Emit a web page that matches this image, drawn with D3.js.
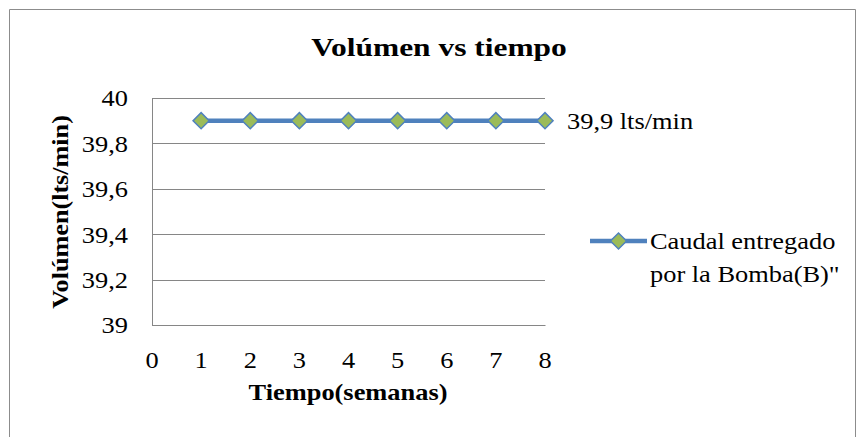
<!DOCTYPE html>
<html>
<head>
<meta charset="utf-8">
<script src="https://cdn.jsdelivr.net/npm/d3@7"></script>
<style>
  body { margin: 0; background: #fff; }
</style>
</head>
<body>
<svg id="chart"></svg>
<script>
// data
const weeks = [1, 2, 3, 4, 5, 6, 7, 8];
const flow = [39.9, 39.9, 39.9, 39.9, 39.9, 39.9, 39.9, 39.9];
const xTicks = [0, 1, 2, 3, 4, 5, 6, 7, 8];
const yTicks = [39, 39.2, 39.4, 39.6, 39.8, 40];
const seriesName = ["Caudal entregado", "por la Bomba(B)\""];
const pointLabel = "39,9 lts/min";

const FONT = "Liberation Serif";
const width = 858, height = 437;
const margin = { top: 98, right: 313, bottom: 112, left: 152 };
const innerW = width - margin.left - margin.right;
const innerH = height - margin.top - margin.bottom;

const svg = d3.select("#chart")
  .attr("width", width)
  .attr("height", height);

// text helper, the source picture is a bit wider than tall so glyphs get stretched
function addText(parent, x, y, str, size, opts = {}) {
  const sx = opts.sx || 1.1;
  const rot = opts.rotate ? ` rotate(${opts.rotate})` : "";
  return parent.append("text")
    .attr("transform", `translate(${x},${y})${rot} scale(${sx},1)`)
    .attr("text-anchor", opts.anchor || "start")
    .attr("dy", opts.dy || 0)
    .attr("font-family", FONT)
    .attr("font-size", size)
    .attr("font-weight", opts.bold ? "bold" : "normal")
    .attr("fill", "#000")
    .text(str);
}

// chart frame (cut off at right-bottom)
svg.append("path")
  .attr("d", `M9.5,${height + 2} V9.5 H855.5 V${height + 2}`)
  .attr("fill", "none")
  .attr("stroke", "#8c8c8c")
  .attr("stroke-width", 1);

const g = svg.append("g")
  .attr("transform", `translate(${margin.left},${margin.top})`);

const x = d3.scaleLinear().domain([0, 8]).range([0, innerW]);
const y = d3.scaleLinear().domain([39, 40]).range([innerH, 0]);

// gridlines
g.selectAll(".grid")
  .data(yTicks)
  .join("line")
  .attr("class", "grid")
  .attr("x1", 0)
  .attr("x2", innerW)
  .attr("y1", d => Math.round(y(d)) + 0.5)
  .attr("y2", d => Math.round(y(d)) + 0.5)
  .attr("stroke", "#868686");

// axes lines only, labels drawn below
const yAxisG = g.append("g").call(d3.axisLeft(y).tickValues(yTicks).tickSize(0).tickFormat(""));
yAxisG.select(".domain").attr("stroke", "#868686");
const xAxisG = g.append("g")
  .attr("transform", `translate(0,${innerH})`)
  .call(d3.axisBottom(x).tickValues(xTicks).tickSize(0).tickFormat(""));
xAxisG.select(".domain").attr("stroke", "#868686");

const fmt = d => d3.format(".1~f")(d).replace(".", ",");
yTicks.forEach(t => addText(g, -24, y(t), fmt(t), 24, { anchor: "end", dy: "0.35em" }));
xTicks.forEach(t => addText(g, x(t), innerH + 43, String(t), 24, { anchor: "middle" }));

// series line
const line = d3.line()
  .x((d, i) => x(weeks[i]))
  .y(d => y(d));

g.append("path")
  .datum(flow)
  .attr("d", line)
  .attr("fill", "none")
  .attr("stroke", "#4f81bd")
  .attr("stroke-width", 4.5);

const marker = d3.symbol().type(d3.symbolSquare).size(130);

g.selectAll(".marker")
  .data(flow)
  .join("path")
  .attr("class", "marker")
  .attr("transform", (d, i) => `translate(${x(weeks[i])},${y(d)}) rotate(45)`)
  .attr("d", marker)
  .attr("fill", "#9bbb59")
  .attr("stroke", "#4f81bd")
  .attr("stroke-width", 1.5);

// label on the last point
addText(g, x(weeks[weeks.length - 1]) + 22, y(flow[flow.length - 1]), pointLabel, 24, { dy: "0.35em" });

// title
addText(svg, 439, 56, "Volúmen vs tiempo", 26, { anchor: "middle", bold: true, sx: 1.21 });

// axis titles
addText(svg, 348, 400, "Tiempo(semanas)", 24, { anchor: "middle", bold: true, sx: 1.1 });
addText(svg, 68, 212, "Volúmen(lts/min)", 24,
  { anchor: "middle", bold: true, sx: 1.09, rotate: -90 });

// legend
const legend = svg.append("g").attr("transform", "translate(590,241)");
legend.append("line")
  .attr("x1", 0).attr("x2", 57)
  .attr("stroke", "#4f81bd")
  .attr("stroke-width", 4.5);
legend.append("path")
  .attr("transform", "translate(28.5,0) rotate(45)")
  .attr("d", marker)
  .attr("fill", "#9bbb59")
  .attr("stroke", "#4f81bd")
  .attr("stroke-width", 1.5);
seriesName.forEach((s, i) => addText(legend, 60, 8 + i * 33, s, 24));
</script>
</body>
</html>
